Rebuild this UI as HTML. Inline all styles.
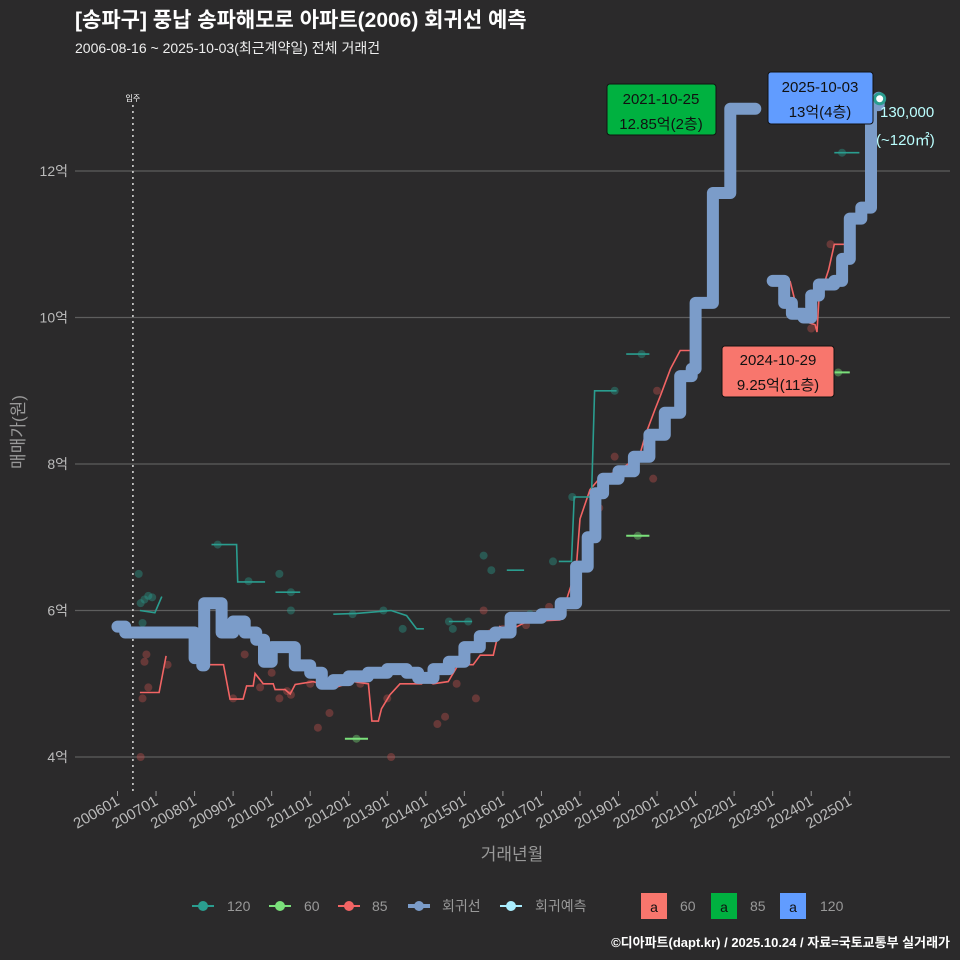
<!DOCTYPE html>
<html><head><meta charset="utf-8"><style>
body{margin:0;background:#2b2a2b;}
svg{display:block;font-family:"Liberation Sans","Noto Sans CJK KR",sans-serif;}
</style></head><body>
<svg id="c" width="960" height="960" viewBox="0 0 960 960">
<rect width="960" height="960" fill="#2b2a2b"/>
<text x="75" y="27" fill="#fff" font-size="21" font-weight="bold">[송파구] 풍납 송파해모로 아파트(2006) 회귀선 예측</text>
<text x="75" y="53" fill="#eee" font-size="14">2006-08-16 ~ 2025-10-03(최근계약일) 전체 거래건</text>
<g id="grid"></g>
<g id="marks"></g>
<text transform="translate(24,432) rotate(-90)" text-anchor="middle" fill="#999" font-size="17">매매가(원)</text>
<text x="512" y="860" text-anchor="middle" fill="#999" font-size="17">거래년월</text>
<g>
<rect x="607" y="84" width="109" height="51" rx="3" fill="#00b140" stroke="#111"/>
<text x="661" y="104" text-anchor="middle" font-size="15" fill="#111">2021-10-25</text>
<text x="661" y="129" text-anchor="middle" font-size="15" fill="#111">12.85억(2층)</text>
</g>
<g>
<rect x="768" y="72" width="105" height="52" rx="3" fill="#619cff" stroke="#111"/>
<text x="820" y="92" text-anchor="middle" font-size="15" fill="#111">2025-10-03</text>
<text x="820" y="117" text-anchor="middle" font-size="15" fill="#111">13억(4층)</text>
</g>
<g>
<rect x="722" y="346" width="112" height="51" rx="3" fill="#f8766d" stroke="#111"/>
<text x="778" y="365" text-anchor="middle" font-size="15" fill="#111">2024-10-29</text>
<text x="778" y="390" text-anchor="middle" font-size="15" fill="#111">9.25억(11층)</text>
</g>
<text x="880" y="117" fill="#bff" font-size="15">130,000</text>
<text x="876" y="145" fill="#bff" font-size="15">(~120㎡)</text>
<g id="legend" font-size="14" fill="#999">
<g><line x1="192" y1="906" x2="214" y2="906" stroke="#2a9d8f" stroke-width="2"/><circle cx="203" cy="906" r="5" fill="#2a9d8f"/><text x="227" y="911">120</text></g>
<g><line x1="269" y1="906" x2="291" y2="906" stroke="#7be07b" stroke-width="2"/><circle cx="280" cy="906" r="5" fill="#7be07b"/><text x="304" y="911">60</text></g>
<g><line x1="338" y1="906" x2="360" y2="906" stroke="#f26464" stroke-width="2"/><circle cx="349" cy="906" r="5" fill="#f26464"/><text x="372" y="911">85</text></g>
<g><line x1="408" y1="906" x2="430" y2="906" stroke="#7b9cc9" stroke-width="4"/><circle cx="419" cy="906" r="5" fill="#7b9cc9"/><text x="442" y="911">회귀선</text></g>
<g><line x1="500" y1="906" x2="522" y2="906" stroke="#aef" stroke-width="2"/><circle cx="511" cy="906" r="5" fill="#aef"/><text x="535" y="911">회귀예측</text></g>
<g><rect x="641" y="893" width="26" height="26" fill="#f8766d"/><text x="654" y="912" text-anchor="middle" fill="#111">a</text><text x="680" y="911">60</text></g>
<g><rect x="711" y="893" width="26" height="26" fill="#00b140"/><text x="724" y="912" text-anchor="middle" fill="#111">a</text><text x="750" y="911">85</text></g>
<g><rect x="780" y="893" width="26" height="26" fill="#619cff"/><text x="793" y="912" text-anchor="middle" fill="#111">a</text><text x="820" y="911">120</text></g>
</g>
<text x="950" y="947" text-anchor="end" fill="#fff" font-size="13" font-weight="bold">©디아파트(dapt.kr) / 2025.10.24 / 자료=국토교통부 실거래가</text>
</svg>
<script>
const yTicks=[4,6,8,10,12];
const yTickLabels=["4억","6억","8억","10억","12억"];
const xTickYears=[2006,2007,2008,2009,2010,2011,2012,2013,2014,2015,2016,2017,2018,2019,2020,2021,2022,2023,2024,2025];
const xTickLabels=["200601","200701","200801","200901","201001","201101","201201","201301","201401","201501","201601","201701","201801","201901","202001","202101","202201","202301","202401","202501"];
const moveInYear=2006.4;
const regYears1=[2006.0,2006.2,2007.8,2008.0,2008.2,2008.25,2008.6,2008.7,2009.0,2009.3,2009.6,2009.8,2010.0,2010.3,2010.6,2011.0,2011.3,2011.6,2012.0,2012.5,2013.0,2013.5,2013.8,2014.2,2014.6,2015.0,2015.4,2015.8,2016.2,2017.0,2017.5,2017.9,2018.2,2018.4,2018.6,2019.0,2019.4,2019.8,2020.2,2020.6,2020.9,2021.0,2021.35,2021.45,2021.9,2022.55];
const regVals1=[5.78,5.7,5.7,5.35,5.25,6.1,6.1,5.7,5.85,5.7,5.6,5.3,5.5,5.5,5.25,5.15,5.0,5.05,5.1,5.15,5.2,5.15,5.08,5.2,5.3,5.5,5.65,5.7,5.9,5.95,6.1,6.6,7.0,7.6,7.8,7.9,8.1,8.4,8.7,9.2,9.3,10.2,10.2,11.7,12.85,12.85];
const regYears2=[2023.0,2023.3,2023.5,2023.8,2024.0,2024.2,2024.6,2024.8,2025.0,2025.3,2025.45,2025.55,2025.75];
const regVals2=[10.5,10.2,10.05,10.0,10.3,10.45,10.5,10.8,11.35,11.5,11.5,12.9,13.0];
const red85Years=[[2006.58,2007.08,2007.26],[2008.18,2008.75,2008.92,2009.26,2009.35,2009.52,2009.57,2009.78,2010.04,2010.09,2010.35,2010.48,2010.61,2011.08,2011.6,2012.12,2012.51,2012.6,2012.77,2012.85,2013.07,2013.33,2013.89,2013.98,2014.19,2014.58,2014.84,2015.23,2015.41,2015.75,2015.92,2016.18,2016.62,2017.48,2017.9,2018.0,2018.26,2018.5,2019.05,2019.55,2019.7,2019.95,2020.1,2020.35,2020.6,2020.85],[2021.9,2022.5],[2023.45,2023.7,2024.1,2024.15,2024.2,2024.45,2024.6,2024.85]];
const red85Vals=[[4.88,4.88,5.38],[5.26,5.26,4.79,4.79,4.97,4.97,5.14,5.0,5.0,4.92,4.92,4.86,4.99,5.03,4.94,5.03,5.0,4.49,4.49,4.66,4.85,5.0,5.0,5.05,5.0,5.03,5.26,5.26,5.39,5.39,5.78,5.73,5.85,5.87,6.55,7.25,7.65,7.8,7.92,8.12,8.4,8.75,8.95,9.3,9.55,9.55],[12.85,12.85],[10.5,9.97,9.9,9.8,10.25,10.65,11.0,11.0]];
const teal120Years=[[2006.58,2006.97,2007.15],[2008.44,2009.09,2009.12,2009.83],[2010.1,2010.74],[2011.6,2012.2,2013.1,2013.5,2013.76,2013.95],[2014.6,2015.2],[2016.1,2016.55],[2017.0,2017.3],[2017.45,2017.78,2017.85,2018.3,2018.38,2018.95],[2019.2,2019.8],[2024.6,2025.25]];
const teal120Vals=[[6.0,5.97,6.19],[6.9,6.9,6.39,6.39],[6.25,6.25],[5.95,5.96,6.0,5.93,5.75,5.75],[5.85,5.85],[6.55,6.55],[5.95,5.95],[6.67,6.67,7.55,7.55,9.0,9.0],[9.5,9.5],[12.25,12.25]];
const green60Years=[[2011.9,2012.5],[2019.2,2019.8],[2024.6,2025.0]];
const green60Vals=[[4.25,4.25],[7.02,7.02],[9.25,9.25]];
const red85PtYears=[2006.6,2006.7,2006.75,2006.8,2006.65,2007.3,2008.3,2009.0,2009.3,2009.7,2010.0,2010.2,2010.4,2010.5,2010.7,2011.0,2011.2,2011.3,2011.5,2012.3,2013.1,2013.0,2014.3,2014.5,2014.8,2015.1,2015.3,2015.5,2015.7,2016.0,2016.6,2017.2,2018.5,2018.9,2019.9,2020.0,2024.0,2024.5];
const red85PtVals=[4.0,5.3,5.4,4.95,4.8,5.26,5.26,4.8,5.4,4.95,5.15,4.8,4.9,4.85,5.25,5.0,4.4,5.0,4.6,5.0,4.0,4.8,4.45,4.55,5.0,5.45,4.8,6.0,5.7,5.75,5.8,6.05,7.4,8.1,7.8,9.0,9.85,11.0];
const teal120PtYears=[2006.55,2006.6,2006.7,2006.8,2006.9,2006.65,2008.6,2009.4,2010.2,2010.5,2010.5,2012.1,2012.9,2013.4,2014.6,2014.7,2015.1,2015.5,2015.7,2016.7,2017.3,2017.8,2018.9,2019.6,2024.8];
const teal120PtVals=[6.5,6.1,6.15,6.2,6.18,5.83,6.9,6.4,6.5,6.0,6.25,5.95,6.0,5.75,5.85,5.75,5.85,6.75,6.55,5.95,6.67,7.55,9.0,9.5,12.25];
const green60PtYears=[2012.2,2019.5,2024.7];
const green60PtVals=[4.25,7.02,9.25];

const NS="http://www.w3.org/2000/svg";
const X=y=>117.5+(y-2006)*38.54;
const Y=v=>757-(v-4)*73.25;
function mk(tag,attrs,parent){const e=document.createElementNS(NS,tag);for(const k in attrs)e.setAttribute(k,attrs[k]);parent.appendChild(e);return e;}
const grid=document.getElementById('grid'),marks=document.getElementById('marks');
yTicks.forEach((t,i)=>{
 const l=mk('line',{x1:75,x2:950,y1:Y(t),y2:Y(t),stroke:'#5e5e5e','stroke-width':1.2},grid);
 
 
 const tx=mk('text',{x:68,y:Y(t)+5,'text-anchor':'end',fill:'#bbb','font-size':14},grid);
 tx.textContent=yTickLabels[i];
 
 
});
xTickYears.forEach((t,i)=>{
 const x=X(t);
 const l=mk('line',{x1:x,x2:x,y1:791,y2:796,stroke:'#999'},grid);
 
 
 const tx=mk('text',{transform:`translate(${x+3},${804}) rotate(-30)`,'text-anchor':'end',fill:'#bbb','font-size':15},grid);
 tx.textContent=xTickLabels[i];
 
 
});
const mv=mk('line',{x1:X(moveInYear),x2:X(moveInYear),y1:105,y2:792,stroke:'#ddd','stroke-dasharray':'2 4','stroke-width':1.5},grid);


const mt=mk('text',{x:X(moveInYear),y:101,'text-anchor':'middle',fill:'#fff','font-size':8},grid);
mt.textContent='입주';



function pts(xs,vs){return xs.map((x,i)=>X(x).toFixed(1)+','+Y(vs[i]).toFixed(1)).join(' ');}
function stepPts(xs,vs){const o=[];xs.forEach((x,i)=>{if(i>0)o.push(X(x).toFixed(1)+','+Y(vs[i-1]).toFixed(1));o.push(X(x).toFixed(1)+','+Y(vs[i]).toFixed(1));});return o.join(' ');}
function dots(xs,vs,col,name){xs.forEach((x,i)=>{const c=mk('circle',{cx:X(x),cy:Y(vs[i]),r:4,fill:col,'fill-opacity':0.4},marks);
 
 });}
dots(red85PtYears,red85PtVals,'#c0504d','point-85');
dots(teal120PtYears,teal120PtVals,'#2a9d8f','point-120');
dots(green60PtYears,green60PtVals,'#7be07b','point-60');
red85Years.forEach((xs,i)=>{const p=mk('polyline',{points:pts(xs,red85Vals[i]),fill:'none',stroke:'#f26464','stroke-width':1.6},marks);
 
 });
teal120Years.forEach((xs,i)=>{const p=mk('polyline',{points:pts(xs,teal120Vals[i]),fill:'none',stroke:'#2a9d8f','stroke-width':1.6},marks);
 
 });
green60Years.forEach((xs,i)=>{const p=mk('polyline',{points:pts(xs,green60Vals[i]),fill:'none',stroke:'#7be07b','stroke-width':2},marks);
 
 });
[[regYears1,regVals1],[regYears2,regVals2]].forEach(([xs,vs])=>{const p=mk('polyline',{points:stepPts(xs,vs),fill:'none',stroke:'#7b9cc9','stroke-width':12,'stroke-linejoin':'round','stroke-linecap':'round'},marks);
 
 });
const lx=regYears2[regYears2.length-1],lv=regVals2[regVals2.length-1];
const fp=mk('circle',{cx:X(lx)+1,cy:Y(lv)+1,r:5,fill:'#fff',stroke:'#2a9d8f','stroke-width':3},marks);


</script>
</body></html>
